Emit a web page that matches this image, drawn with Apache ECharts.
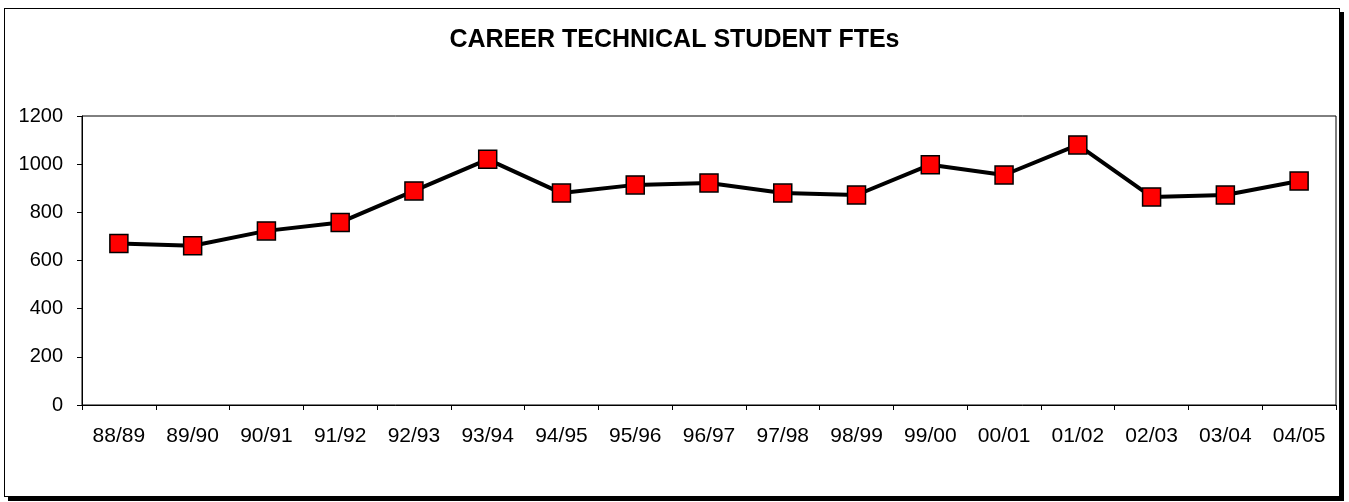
<!DOCTYPE html>
<html><head><meta charset="utf-8">
<script src="https://cdn.jsdelivr.net/npm/echarts@6/dist/echarts.min.js"></script>
<style>
html,body{margin:0;padding:0;background:#fff;}
#frame{position:absolute;left:4px;top:8px;width:1334px;height:487px;border:1px solid #000;box-shadow:4px 4px 0 #000;background:#fff;}
#c{position:absolute;left:0;top:0;width:1349px;height:502px;}
</style></head>
<body>
<div id="frame"></div>
<div id="c"></div>
<script>
var title = 'CAREER TECHNICAL STUDENT FTEs';
var categories = ['88/89','89/90','90/91','91/92','92/93','93/94','94/95','95/96','96/97','97/98','98/99','99/00','00/01','01/02','02/03','03/04','04/05'];
var ftes = [671, 661, 723, 758, 889, 1020, 880, 914, 922, 880, 872, 998, 955, 1080, 864, 872, 930];
var yTicks = {min: 0, max: 1200, interval: 200};

var chart = echarts.init(document.getElementById('c'), null, {renderer: 'canvas'});
chart.setOption({
  backgroundColor: 'transparent',
  animation: false,
  title: {
    text: title, left: 'center', top: 23,
    textStyle: {fontFamily: 'Liberation Sans, Arial, sans-serif', fontSize: 25, fontWeight: 'bold', color: '#000'}
  },
  grid: {left: 82, right: 13, top: 116, bottom: 97, show: true, borderColor: '#000', borderWidth: 1, backgroundColor: 'transparent'},
  xAxis: {
    type: 'category', data: categories, boundaryGap: true,
    axisLine: {lineStyle: {color: '#000', width: 1}},
    axisTick: {show: true, alignWithLabel: false, length: 5, lineStyle: {color: '#000'}},
    axisLabel: {color: '#000', fontSize: 21, fontFamily: 'Liberation Sans, Arial, sans-serif', margin: 21, interval: 0},
    splitLine: {show: false}
  },
  yAxis: {
    type: 'value', min: yTicks.min, max: yTicks.max, interval: yTicks.interval,
    axisLine: {show: true, lineStyle: {color: '#000', width: 1}},
    axisTick: {show: true, length: 5, lineStyle: {color: '#000'}},
    axisLabel: {color: '#000', fontSize: 20, fontFamily: 'Liberation Sans, Arial, sans-serif', margin: 19,
      formatter: function (v) { return String(v); }},
    splitLine: {show: false}
  },
  series: [{
    type: 'line', data: ftes,
    symbol: 'rect', symbolSize: 18,
    lineStyle: {color: '#000', width: 4},
    itemStyle: {color: '#ff0000', borderColor: '#000', borderWidth: 1.5},
    z: 3
  }]
});
</script>
</body></html>
